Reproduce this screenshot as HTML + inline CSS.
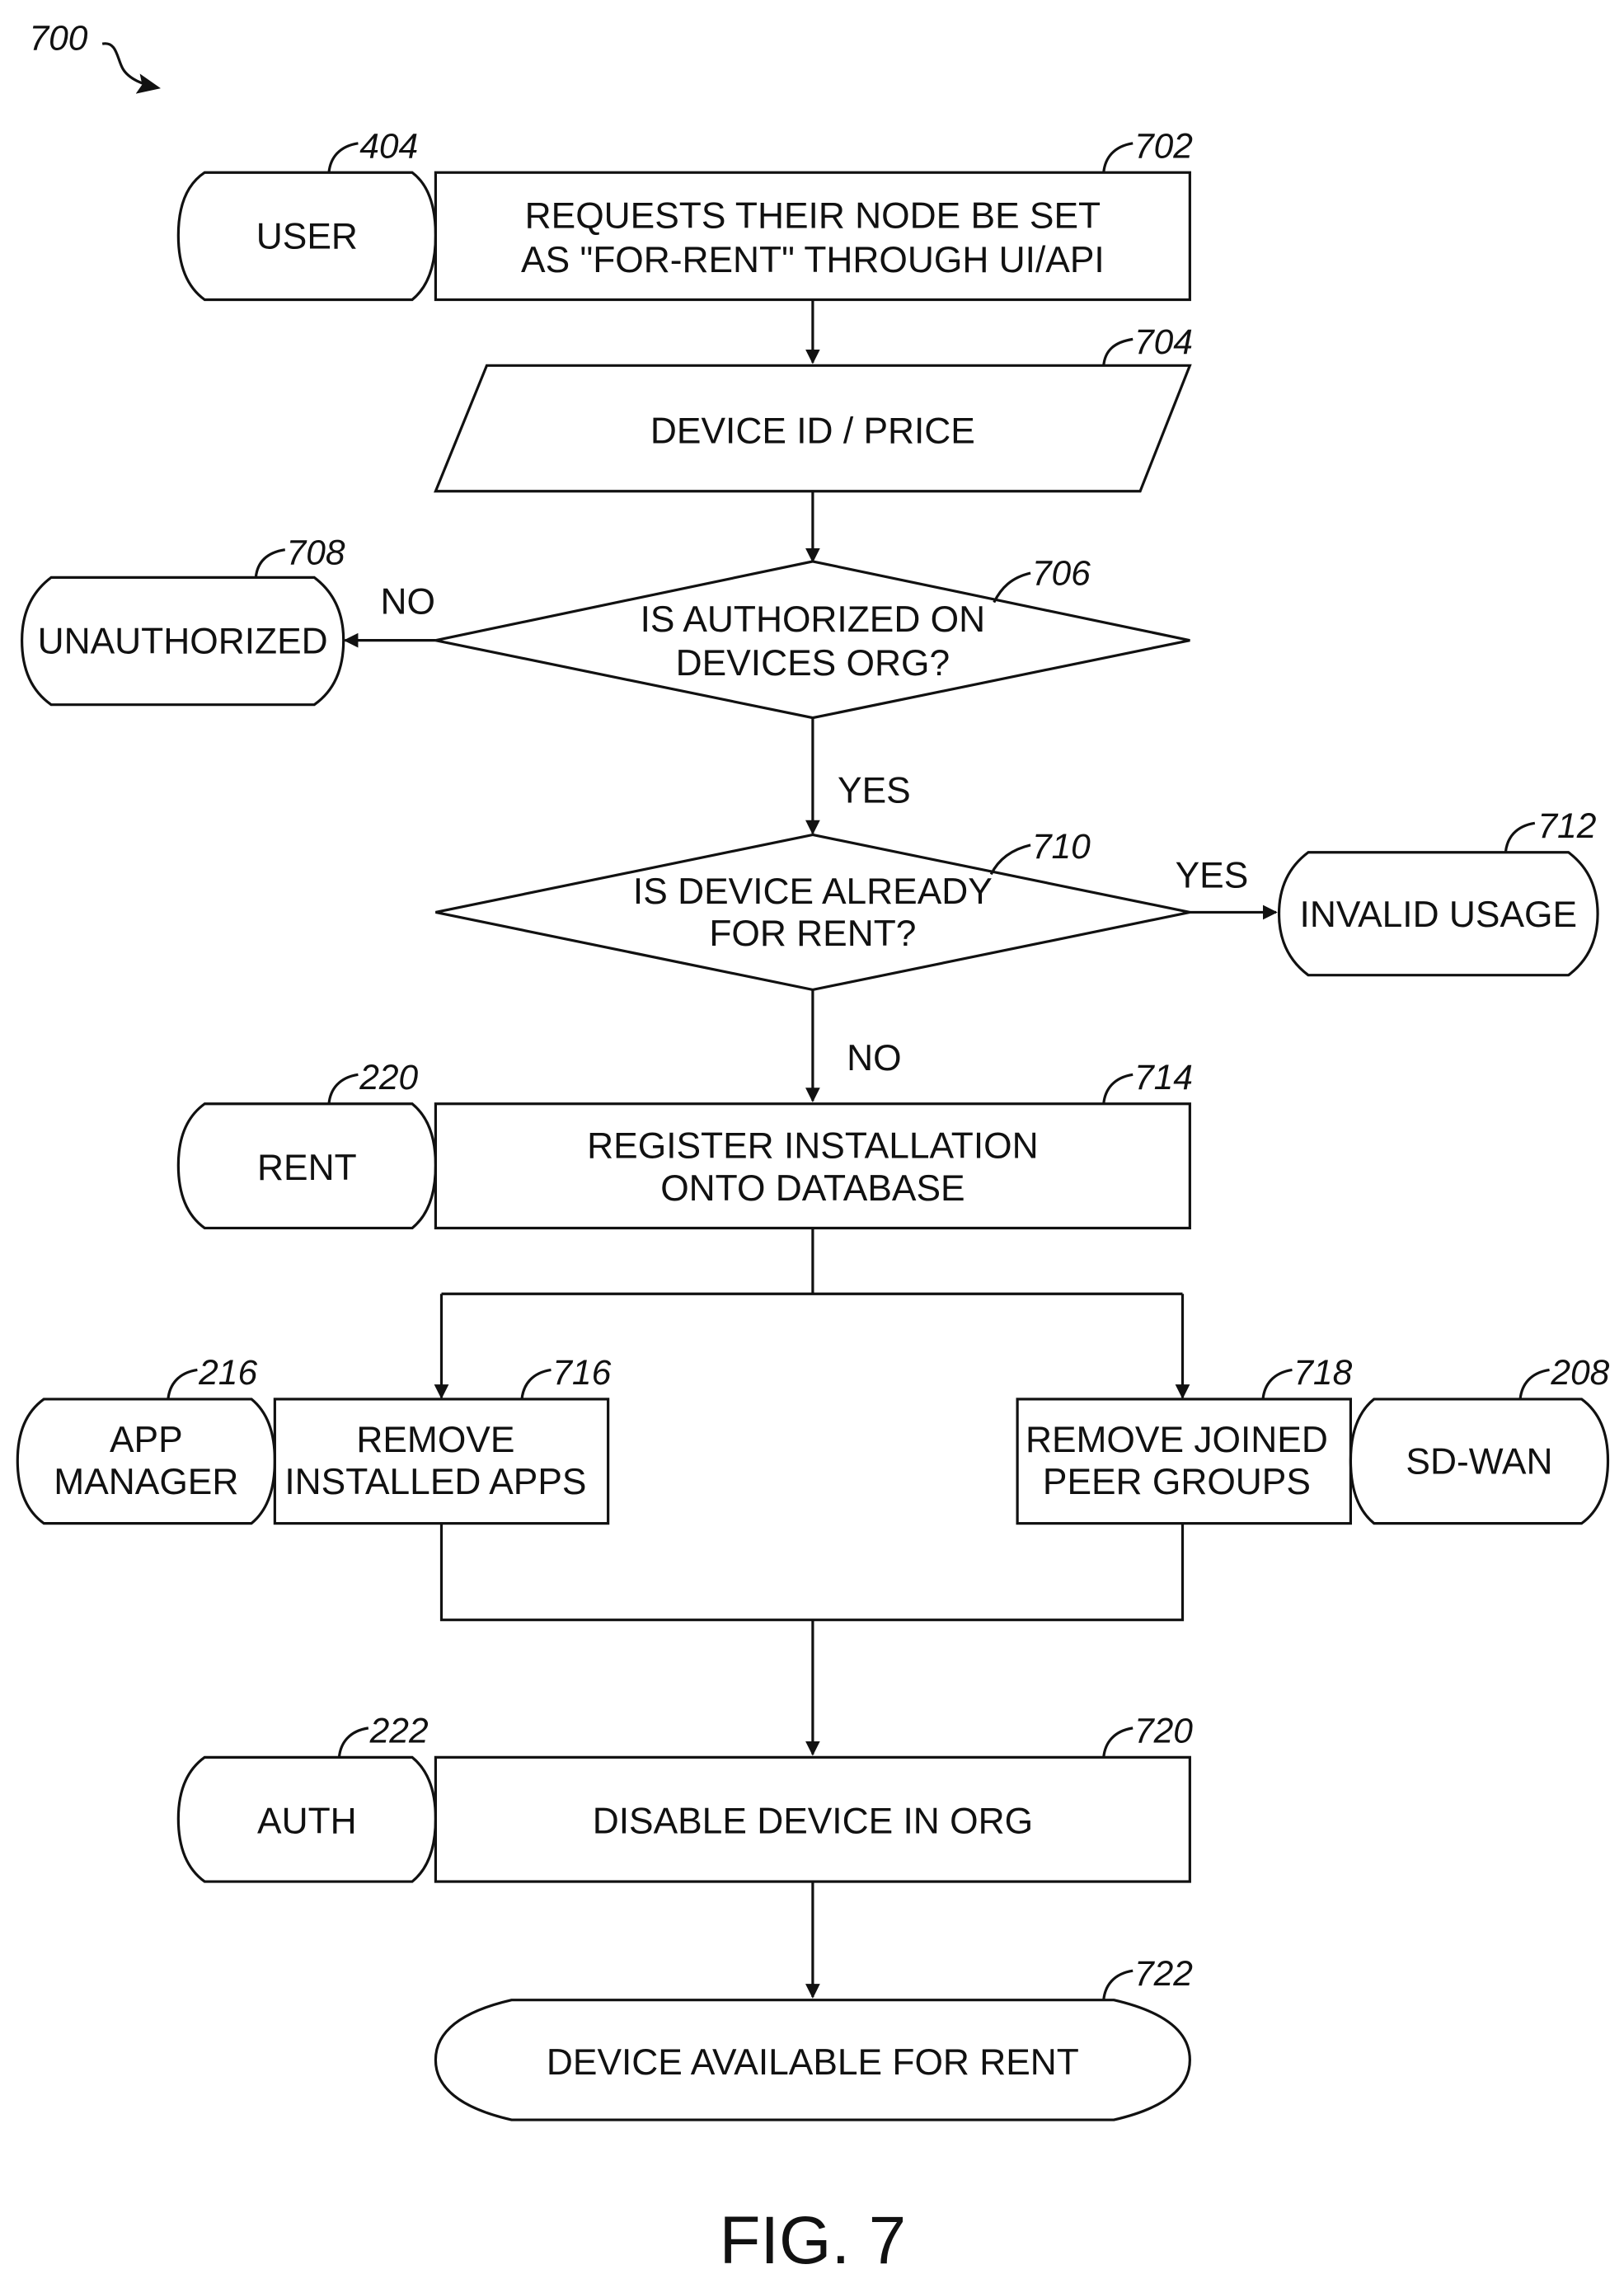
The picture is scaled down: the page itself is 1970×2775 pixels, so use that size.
<!DOCTYPE html>
<html><head><meta charset="utf-8"><style>
html,body{margin:0;padding:0;background:#fff;}
svg{display:block;}
text{font-family:"Liberation Sans",sans-serif;fill:#111;}
.t{font-size:25px;text-anchor:middle;}
.l{font-size:24px;font-style:italic;}
</style></head><body>
<svg width="1970" height="2775" viewBox="0 0 1111 1565" xmlns="http://www.w3.org/2000/svg">
<defs><marker id="a" markerWidth="10" markerHeight="10" refX="9" refY="5" orient="auto" markerUnits="userSpaceOnUse"><path d="M0,0 L10,5 L0,10 Z" fill="#111"/></marker>
<marker id="b" markerWidth="16" markerHeight="14" refX="14" refY="7" orient="auto" markerUnits="userSpaceOnUse"><path d="M0,0 L16,7 L0,14 L3,7 Z" fill="#111"/></marker></defs>
<g fill="none" stroke="#111" stroke-width="1.8">
<!-- 700 -->
<path d="M70,30 C80,28 80,40 84,47 C88,54 98,58 108,60" marker-end="url(#b)"/>
<!-- row 1 -->
<path d="M140,118 H282 Q298,130 298,161 Q298,192 282,205 H140 Q122,192 122,161 Q122,130 140,118 Z"/>
<rect x="298" y="118" width="516" height="87"/>
<path d="M225,118 C226,108 232,100 245,98"/>
<path d="M755,118 C756,108 762,100 775,98"/>
<line x1="556" y1="205" x2="556" y2="248" marker-end="url(#a)"/>
<path d="M333,250 H814 L780,336 H298 Z"/>
<path d="M755,250 C756,240 762,234 775,232"/>
<line x1="556" y1="336" x2="556" y2="384" marker-end="url(#a)"/>
<path d="M556,384 L814,438 L556,491 L298,438 Z"/>
<path d="M680,412 C685,402 692,395 705,392"/>
<path d="M35,395 H215 Q235,410 235,438 Q235,468 215,482 H35 Q15,468 15,438 Q15,410 35,395 Z"/>
<path d="M175,395 C176,385 182,378 195,376"/>
<line x1="298" y1="438" x2="236" y2="438" marker-end="url(#a)"/>
<line x1="556" y1="491" x2="556" y2="570" marker-end="url(#a)"/>
<path d="M556,571 L814,624 L556,677 L298,624 Z"/>
<path d="M678,598 C683,588 692,581 705,578"/>
<line x1="814" y1="624" x2="873" y2="624" marker-end="url(#a)"/>
<path d="M895,583 H1073 Q1093,598 1093,625 Q1093,652 1073,667 H895 Q875,652 875,625 Q875,598 895,583 Z"/>
<path d="M1030,583 C1031,573 1037,565 1050,563"/>
<line x1="556" y1="677" x2="556" y2="753" marker-end="url(#a)"/>
<path d="M140,755 H282 Q298,768 298,797 Q298,827 282,840 H140 Q122,827 122,797 Q122,768 140,755 Z"/>
<rect x="298" y="755" width="516" height="85"/>
<path d="M225,755 C226,745 232,737 245,735"/>
<path d="M755,755 C756,745 762,737 775,735"/>
<polyline points="556,840 556,885"/>
<polyline points="302,885 809,885"/>
<line x1="302" y1="885" x2="302" y2="956" marker-end="url(#a)"/>
<line x1="809" y1="885" x2="809" y2="956" marker-end="url(#a)"/>
<path d="M30,957 H172 Q188,970 188,999 Q188,1029 172,1042 H30 Q12,1029 12,999 Q12,970 30,957 Z"/>
<rect x="188" y="957" width="228" height="85"/>
<rect x="696" y="957" width="228" height="85"/>
<path d="M940,957 H1082 Q1100,970 1100,999 Q1100,1029 1082,1042 H940 Q924,1029 924,999 Q924,970 940,957 Z"/>
<path d="M115,957 C116,947 122,939 135,937"/>
<path d="M357,957 C358,947 364,939 377,937"/>
<path d="M864,957 C865,947 871,939 884,937"/>
<path d="M1040,957 C1041,947 1047,939 1060,937"/>
<polyline points="302,1042 302,1108 809,1108 809,1042"/>
<line x1="556" y1="1108" x2="556" y2="1200" marker-end="url(#a)"/>
<path d="M140,1202 H282 Q298,1215 298,1244 Q298,1274 282,1287 H140 Q122,1274 122,1244 Q122,1215 140,1202 Z"/>
<rect x="298" y="1202" width="516" height="85"/>
<path d="M232,1202 C233,1192 239,1184 252,1182"/>
<path d="M755,1202 C756,1192 762,1184 775,1182"/>
<line x1="556" y1="1287" x2="556" y2="1366" marker-end="url(#a)"/>
<path d="M350,1368 H762 Q814,1380 814,1409 Q814,1438 762,1450 H350 Q298,1438 298,1409 Q298,1380 350,1368 Z"/>
<path d="M755,1368 C756,1358 762,1350 775,1348"/>
</g>
<text class="l" x="20" y="34">700</text>
<text class="l" x="246" y="108">404</text>
<text class="l" x="776" y="108">702</text>
<text class="l" x="776" y="242">704</text>
<text class="l" x="706" y="400">706</text>
<text class="l" x="196" y="386">708</text>
<text class="l" x="706" y="587">710</text>
<text class="l" x="1052" y="573">712</text>
<text class="l" x="246" y="745">220</text>
<text class="l" x="776" y="745">714</text>
<text class="l" x="136" y="947">216</text>
<text class="l" x="378" y="947">716</text>
<text class="l" x="885" y="947">718</text>
<text class="l" x="1061" y="947">208</text>
<text class="l" x="253" y="1192">222</text>
<text class="l" x="776" y="1192">720</text>
<text class="l" x="776" y="1358">722</text>
<text class="t" x="210" y="170">USER</text>
<text class="t" x="556" y="156">REQUESTS THEIR NODE BE SET</text>
<text class="t" x="556" y="186">AS "FOR-RENT" THROUGH UI/API</text>
<text class="t" x="556" y="303">DEVICE ID / PRICE</text>
<text class="t" x="556" y="432">IS AUTHORIZED ON</text>
<text class="t" x="556" y="462">DEVICES ORG?</text>
<text class="t" x="125" y="447">UNAUTHORIZED</text>
<text class="t" x="279" y="420">NO</text>
<text class="t" x="598" y="549">YES</text>
<text class="t" x="556" y="618">IS DEVICE ALREADY</text>
<text class="t" x="556" y="647">FOR RENT?</text>
<text class="t" x="829" y="607">YES</text>
<text class="t" x="984" y="634">INVALID USAGE</text>
<text class="t" x="598" y="732">NO</text>
<text class="t" x="210" y="807">RENT</text>
<text class="t" x="556" y="792">REGISTER INSTALLATION</text>
<text class="t" x="556" y="821">ONTO DATABASE</text>
<text class="t" x="100" y="993">APP</text>
<text class="t" x="100" y="1022">MANAGER</text>
<text class="t" x="298" y="993">REMOVE</text>
<text class="t" x="298" y="1022">INSTALLED APPS</text>
<text class="t" x="805" y="993">REMOVE JOINED</text>
<text class="t" x="805" y="1022">PEER GROUPS</text>
<text class="t" x="1012" y="1008">SD-WAN</text>
<text class="t" x="210" y="1254">AUTH</text>
<text class="t" x="556" y="1254">DISABLE DEVICE IN ORG</text>
<text class="t" x="556" y="1419">DEVICE AVAILABLE FOR RENT</text>
<text x="556" y="1548" style="font-size:46px;text-anchor:middle;">FIG. 7</text>
</svg>
</body></html>
